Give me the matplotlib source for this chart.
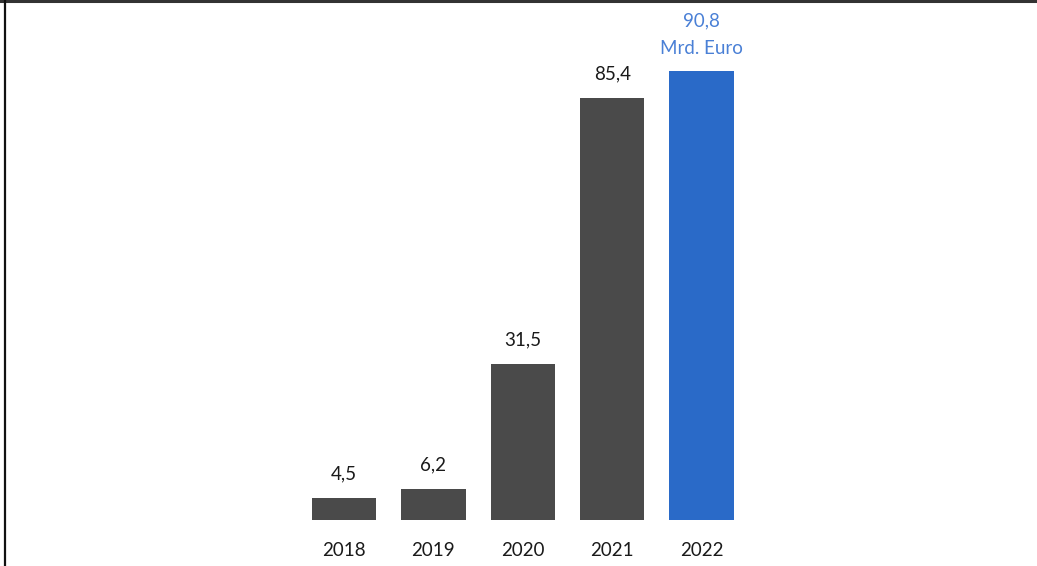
import matplotlib.pyplot as plt
from matplotlib.lines import Line2D

jahre = ["2018", "2019", "2020", "2021", "2022"]
werte = [4.5, 6.2, 31.5, 85.4, 90.8]
beschriftung = ["4,5", "6,2", "31,5", "85,4", "90,8"]

grau = "#4a4a4a"
blau = "#2a6ac8"
blau_text = "#4a80d6"

plt.rcParams["font.family"] = ["Lato", "DejaVu Sans"]

fig = plt.figure(figsize=(10.37, 5.66), dpi=100)
ax = fig.add_axes([0, 46 / 566, 1, 520 / 566])

x = list(range(len(jahre)))
farben = [grau] * (len(jahre) - 1) + [blau]
ax.bar(x, werte, width=0.72, color=farben)

# Werte über den Balken
for i, (w, t) in enumerate(zip(werte, beschriftung)):
    if i == len(werte) - 1:
        ax.annotate(t, (i, w), xytext=(0, 36.5), textcoords="offset points",
                    ha="center", va="center", fontsize=13.5, color=blau_text)
        ax.annotate("Mrd. Euro", (i, w), xytext=(0, 16.5), textcoords="offset points",
                    ha="center", va="center", fontsize=13.5, color=blau_text)
    else:
        ax.annotate(t, (i, w), xytext=(0, 17.5), textcoords="offset points",
                    ha="center", va="center", fontsize=13.5, color="#1a1a1a")

ax.set_xlim(-344 / 89.4, (1037 - 344) / 89.4)
ax.set_ylim(0, 520 / 4.94)
ax.set_xticks(x)
ax.set_xticklabels(jahre, fontsize=13.5, color="#1a1a1a")
ax.tick_params(axis="x", length=0, pad=15.5)
ax.set_yticks([])
for s in ax.spines.values():
    s.set_visible(False)

# Rahmen oben und links
fig.add_artist(Line2D([0, 1], [1 - 1 / 566, 1 - 1 / 566], color="#333333", lw=2.2,
                      transform=fig.transFigure))
fig.add_artist(Line2D([5 / 1037, 5 / 1037], [0, 1], color="#111111", lw=1.6,
                      transform=fig.transFigure))

fig.savefig("out.png", dpi=100)
